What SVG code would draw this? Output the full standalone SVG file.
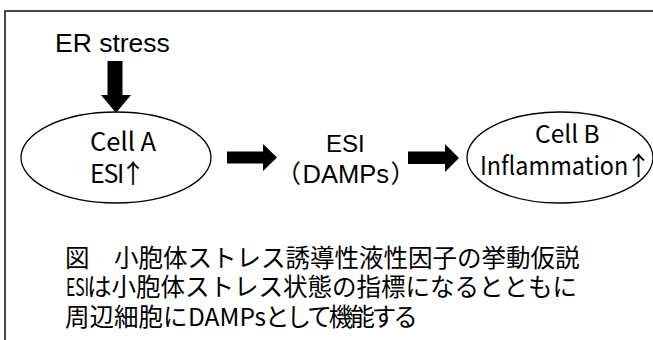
<svg xmlns="http://www.w3.org/2000/svg" width="653" height="340" viewBox="0 0 653 340">
  <style>
    .frame { fill: none; stroke: #1a1a1a; stroke-width: 1.6; }
    .cell { fill: #ffffff; stroke: #000000; stroke-width: 1.3; }
    .block { fill: #000000; stroke: none; }
    .sans { font-family: "Liberation Sans", Arial, sans-serif; fill: #000000; }
    .jp { font-family: "Noto Sans CJK JP", "Noto Sans", sans-serif; fill: #000000; }
  </style>

  <rect x="0" y="0" width="653" height="340" fill="#ffffff"/>
  <!-- outer frame, runs past the right and bottom edges -->
  <rect class="frame" x="5" y="11" width="670" height="350"/>

  <g id="node-er-stress">
    <text class="sans" x="55" y="52" font-size="26.5">ER stress</text>
  </g>

  <g id="node-cell-a">
    <ellipse class="cell" cx="116" cy="157.5" rx="95" ry="45.5"/>
    <text class="jp" x="90" y="151" font-size="25.5">Cell A</text>
    <text class="jp" x="90" y="183" font-size="25" letter-spacing="-1.3">ESI</text>
    <text class="jp" x="120" y="183" font-size="26">↑</text>
  </g>

  <g id="node-esi">
    <text class="sans" x="326" y="152" font-size="24">ESI</text>
    <text class="jp" x="276" y="183" font-size="25">（</text>
    <text class="sans" x="302.5" y="183" font-size="25.5">DAMPs</text>
    <text class="jp" x="390.5" y="183" font-size="25">）</text>
  </g>

  <g id="node-cell-b">
    <ellipse class="cell" cx="560" cy="157.5" rx="93" ry="45.5"/>
    <text class="jp" x="535" y="143" font-size="24.5">Cell B</text>
    <text class="jp" transform="translate(480 175) scale(0.935 1)" font-size="25">Inflammation</text>
    <text class="jp" x="625.5" y="175" font-size="26">↑</text>
  </g>

  <g id="connectors">
    <!-- ER stress down into Cell A -->
    <polygon class="block" points="107.5,61 122.5,61 122.5,95 131,95 116,113 101,95 107.5,95"/>
    <!-- Cell A to ESI -->
    <polygon class="block" points="227,151.5 263,151.5 263,144 277,157.5 263,171 263,163.5 227,163.5"/>
    <!-- ESI to Cell B -->
    <polygon class="block" points="408,151.5 445,151.5 445,144 459,158 445,172 445,164 408,164"/>
  </g>

  <g id="caption">
    <text class="jp" x="65" y="266.5" font-size="24.5">図　小胞体ストレス誘導性液性因子の挙動仮説</text>
    <text class="jp" transform="translate(66 296) scale(0.64 1)" font-size="24.5">ESI</text>
    <text class="jp" x="87" y="296" font-size="24.5">は小胞体ストレス状態の指標になるとともに</text>
    <text class="jp" x="65" y="325.5" font-size="24.5">周辺細胞に</text>
    <text class="jp" x="188" y="325.5" font-size="24.5">DAMPs</text>
    <text class="jp" x="265" y="325.5" font-size="24.5" letter-spacing="-3">として機能する</text>
  </g>
</svg>
